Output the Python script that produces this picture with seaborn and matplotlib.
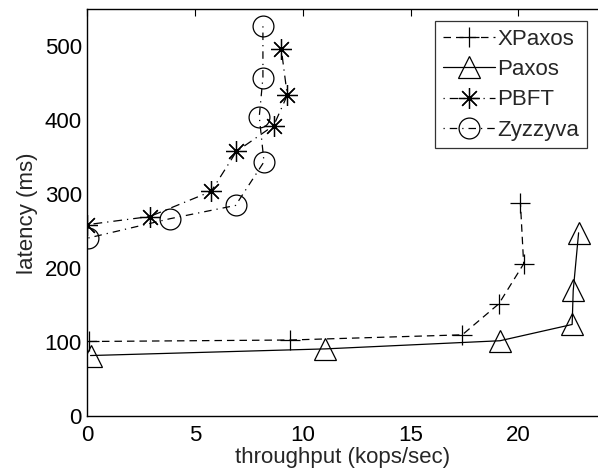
import matplotlib
matplotlib.use("Agg")
import matplotlib.pyplot as plt
import seaborn as sns
import pandas as pd

sns.set_theme(style="white")
plt.rcParams['font.family'] = ['Liberation Sans', 'DejaVu Sans']

xpaxos_x = [0.1, 9.4, 17.4, 19.1, 20.25, 20.1]
xpaxos_y = [101, 103, 110, 152, 206, 288]
paxos_x = [0.15, 11.05, 19.15, 22.5, 22.55, 22.8]
paxos_y = [82, 91, 102, 124, 170, 248]
pbft_x = [0.0, 2.9, 5.75, 6.92, 8.65, 9.28, 9.0]
pbft_y = [259, 270, 304, 358, 393, 434, 497]
zyz_x = [0.05, 3.83, 6.88, 8.2, 7.98, 8.15, 8.15]
zyz_y = [241, 267, 285, 344, 405, 458, 528]

series = [
    ("XPaxos", xpaxos_x, xpaxos_y, "+", (0, (6, 4))),
    ("Paxos", paxos_x, paxos_y, "^", "-"),
    ("PBFT", pbft_x, pbft_y, (8, 2, 0), (0, (1, 4, 7, 4))),
    ("Zyzzyva", zyz_x, zyz_y, "o", (0, (1, 4, 6, 4))),
]

fig = plt.figure(figsize=(5.98, 4.74), dpi=100)
ax = fig.add_axes([0.146, 0.122, 0.854, 0.858])

msizes = {"XPaxos": 15, "Paxos": 16, "PBFT": 15, "Zyzzyva": 15}
for name, xs, ys, mk, ls in series:
    df = pd.DataFrame({"x": xs, "y": ys})
    sns.lineplot(data=df, x="x", y="y", sort=False, estimator=None, ax=ax,
                 color="black", linewidth=0.9, linestyle=ls, marker=mk,
                 markersize=msizes[name], markerfacecolor="none",
                 markeredgecolor="black", markeredgewidth=0.9, label=name)

ax.set_xlim(0, 23.7)
ax.set_ylim(0, 550)
ax.set_xticks([0, 5, 10, 15, 20])
ax.set_yticks([0, 100, 200, 300, 400, 500])
ax.tick_params(direction="in", length=5, width=0.8, labelsize=16, top=True,
               right=False, colors="black", pad=4)
ax.tick_params(axis="x", pad=6)
for side in ["left", "bottom", "top"]:
    ax.spines[side].set_visible(True)
    ax.spines[side].set_color("black")
    ax.spines[side].set_linewidth(1.0)
ax.spines["right"].set_visible(False)
ax.set_xlabel("throughput (kops/sec)", fontsize=16, labelpad=1)
ax.set_ylabel("latency (ms)", fontsize=16, labelpad=5)

leg = ax.legend(loc="upper right", bbox_to_anchor=(0.978, 0.972), fontsize=16,
                frameon=True, fancybox=False, edgecolor="black",
                handlelength=2.35, handletextpad=0.1, borderpad=0.35,
                labelspacing=0.42, borderaxespad=0)
leg.get_frame().set_linewidth(0.9)

fig.savefig("out.png", dpi=100)
